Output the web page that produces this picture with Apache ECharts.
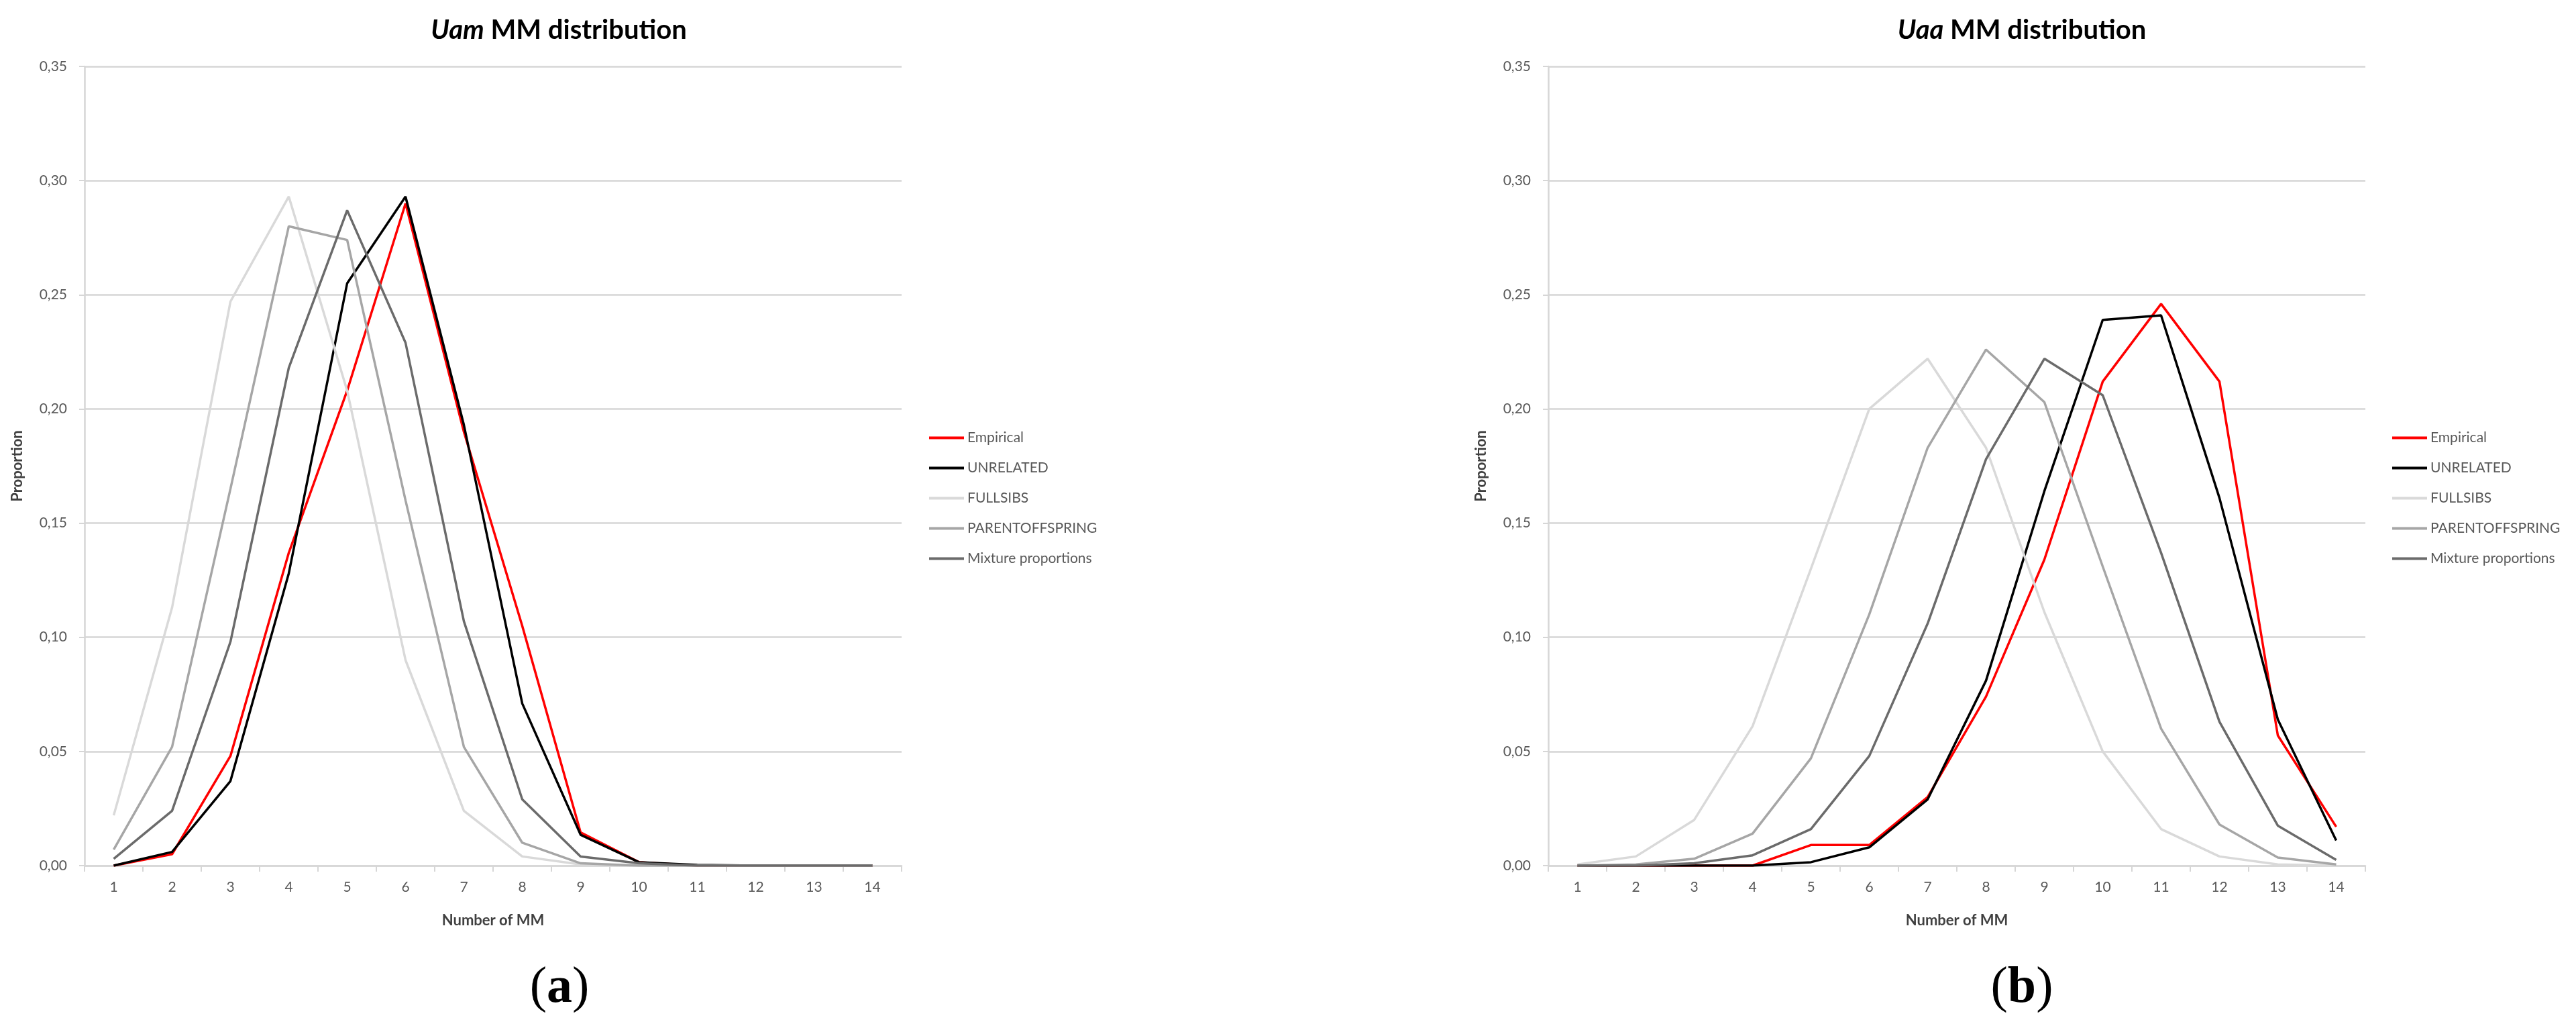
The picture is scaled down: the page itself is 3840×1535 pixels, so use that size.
<!DOCTYPE html>
<html>
<head>
<meta charset="utf-8">
<script src="https://cdn.jsdelivr.net/npm/echarts@6/dist/echarts.min.js"></script>
<style>
  html, body { margin: 0; padding: 0; background: #fff; }
  #chart { width: 3840px; height: 1535px; }
</style>
</head>
<body>
<div id="chart"></div>
<script>
// ---- data ----
const categories = ['1','2','3','4','5','6','7','8','9','10','11','12','13','14'];
const seriesNames = ['Empirical','UNRELATED','FULLSIBS','PARENTOFFSPRING','Mixture proportions'];
const yTicks = [0, 0.05, 0.10, 0.15, 0.20, 0.25, 0.30, 0.35];

// (a) Uam MM distribution
const uamEmpirical = [0.000, 0.005, 0.048, 0.137, 0.208, 0.290, 0.190, 0.105, 0.0145, 0.0015, 0, 0, 0, 0];
const uamUnrelated = [0.000, 0.006, 0.037, 0.128, 0.255, 0.293, 0.193, 0.071, 0.0135, 0.0015, 0.0003, 0, 0, 0];
const uamFullsibs  = [0.022, 0.113, 0.247, 0.293, 0.208, 0.090, 0.024, 0.004, 0.0005, 0, 0, 0, 0, 0];
const uamParent    = [0.007, 0.052, 0.165, 0.280, 0.274, 0.160, 0.052, 0.010, 0.001, 0, 0, 0, 0, 0];
const uamMixture   = [0.003, 0.024, 0.098, 0.218, 0.287, 0.229, 0.107, 0.029, 0.004, 0.001, 0, 0, 0, 0];

// (b) Uaa MM distribution
const uaaEmpirical = [0, 0, 0, 0, 0.009, 0.009, 0.030, 0.074, 0.134, 0.212, 0.246, 0.212, 0.057, 0.017];
const uaaUnrelated = [0, 0, 0, 0, 0.0015, 0.008, 0.029, 0.081, 0.164, 0.239, 0.241, 0.161, 0.064, 0.011];
const uaaFullsibs  = [0.0005, 0.004, 0.020, 0.061, 0.130, 0.200, 0.222, 0.183, 0.111, 0.050, 0.016, 0.004, 0.0005, 0];
const uaaParent    = [0, 0.0005, 0.003, 0.014, 0.047, 0.110, 0.183, 0.226, 0.203, 0.131, 0.060, 0.018, 0.0035, 0.0005];
const uaaMixture   = [0, 0, 0.001, 0.0045, 0.016, 0.048, 0.106, 0.178, 0.222, 0.206, 0.137, 0.063, 0.0175, 0.0025];

const colors = ['#ff0000', '#000000', '#d9d9d9', '#a6a6a6', '#6b6b6b'];

// ---- chart ----
const FONT = 'Lato, "Open Sans", sans-serif';
const SERIF = '"Liberation Serif", "DejaVu Serif", serif';
const gridColor = '#d6d6d6';
const labelColor = '#595959';

function makeTitle(italicPart, rest, centerX) {
  return {
    text: '{i|' + italicPart + '}{b| ' + rest + '}',
    left: centerX,
    top: 20,
    textAlign: 'center',
    textStyle: {
      rich: {
        i: { fontFamily: FONT, fontSize: 40, fontWeight: 'bold', fontStyle: 'italic', color: '#000' },
        b: { fontFamily: FONT, fontSize: 40, fontWeight: 'bold', color: '#000' }
      }
    }
  };
}
function makePanelLabel(letter, centerX) {
  return {
    text: '{p|(}{l|' + letter + '}{p|)}',
    left: centerX,
    top: 1430,
    textAlign: 'center',
    textStyle: {
      fontWeight: 'normal',
      rich: {
        p: { fontFamily: SERIF, fontSize: 76, fontWeight: 'normal', color: '#000' },
        l: { fontFamily: SERIF, fontSize: 76, fontWeight: 'bold', color: '#000' }
      }
    }
  };
}
function makeXAxis(gridIndex) {
  return {
    type: 'category',
    gridIndex: gridIndex,
    data: categories,
    boundaryGap: true,
    name: 'Number of MM',
    nameLocation: 'middle',
    nameGap: 71,
    nameTextStyle: { fontFamily: FONT, fontSize: 22, fontWeight: 'bold', color: '#404040' },
    axisLine: { show: true, lineStyle: { color: gridColor, width: 2.5 } },
    axisTick: { show: true, length: 9, lineStyle: { color: gridColor, width: 2 } },
    axisLabel: { fontFamily: FONT, fontSize: 21, color: labelColor, margin: 22 },
    splitLine: { show: false }
  };
}
function makeYAxis(gridIndex) {
  return {
    type: 'value',
    gridIndex: gridIndex,
    min: 0,
    max: 0.35,
    interval: 0.05,
    name: 'Proportion',
    nameLocation: 'middle',
    nameGap: 89,
    nameRotate: 90,
    nameTextStyle: { fontFamily: FONT, fontSize: 22, fontWeight: 'bold', color: '#404040' },
    axisLine: { show: true, lineStyle: { color: gridColor, width: 2.5 } },
    axisTick: { show: true, length: 8, lineStyle: { color: gridColor, width: 2 } },
    axisLabel: {
      fontFamily: FONT, fontSize: 21, color: labelColor, margin: 26,
      formatter: function (v) { return v.toFixed(2).replace('.', ','); }
    },
    splitLine: { show: true, lineStyle: { color: gridColor, width: 2.5 } }
  };
}
function makeLegend(leftX) {
  return {
    orient: 'vertical',
    left: leftX,
    top: 637,
    data: seriesNames,
    icon: 'rect',
    itemWidth: 52,
    itemHeight: 4,
    itemGap: 24,
    textStyle: { fontFamily: FONT, fontSize: 21, color: labelColor, lineHeight: 21 },
    selectedMode: false
  };
}
function makeSeries(name, data, idx, gridIdx) {
  return {
    name: name,
    type: 'line',
    xAxisIndex: gridIdx,
    yAxisIndex: gridIdx,
    data: data,
    showSymbol: false,
    symbol: 'none',
    smooth: false,
    lineStyle: { color: colors[idx], width: 3.5 },
    itemStyle: { color: colors[idx] },
    emphasis: { disabled: true }
  };
}

const uamSets = [uamEmpirical, uamUnrelated, uamFullsibs, uamParent, uamMixture];
const uaaSets = [uaaEmpirical, uaaUnrelated, uaaFullsibs, uaaParent, uaaMixture];
const series = [];
seriesNames.forEach((n, i) => series.push(makeSeries(n, uamSets[i], i, 0)));
seriesNames.forEach((n, i) => series.push(makeSeries(n, uaaSets[i], i, 1)));

const chart = echarts.init(document.getElementById('chart'));
chart.setOption({
  animation: false,
  backgroundColor: '#ffffff',
  color: colors,
  title: [
    makeTitle('Uam', 'MM distribution', 828),
    makeTitle('Uaa', 'MM distribution', 3009),
    makePanelLabel('a', 829),
    makePanelLabel('b', 3009)
  ],
  legend: [makeLegend(1380), makeLegend(3561)],
  grid: [
    { left: 126, top: 99, width: 1218, height: 1191, containLabel: false },
    { left: 2308, top: 99, width: 1218, height: 1191, containLabel: false }
  ],
  xAxis: [makeXAxis(0), makeXAxis(1)],
  yAxis: [makeYAxis(0), makeYAxis(1)],
  series: series
});
</script>
</body>
</html>
